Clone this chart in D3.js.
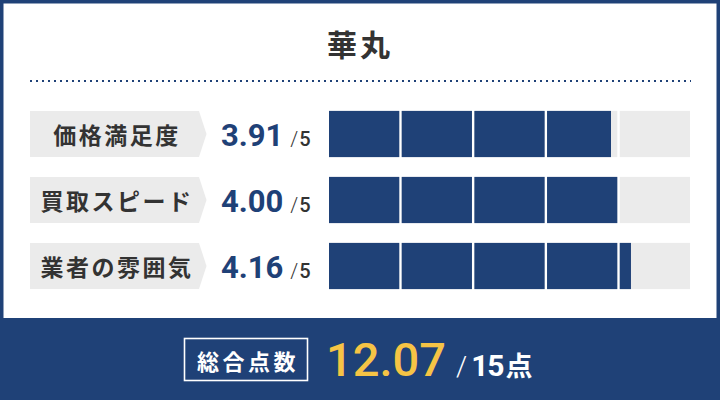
<!DOCTYPE html>
<html><head><meta charset="utf-8">
<script src="https://cdn.jsdelivr.net/npm/d3@7"></script>
<style>
html,body{margin:0;padding:0;background:#fff;}
svg{display:block;}
</style></head>
<body>
<svg id="c" width="720" height="400"></svg>
<script>
const title = "華丸";
const categories = ["価格満足度", "買取スピード", "業者の雰囲気"];
const values = [3.91, 4.00, 4.16];
const maxScore = 5;
const totalLabel = "総合点数";
const totalValue = "12.07";
const totalMax = "/15点";

const navy = "#1f4177", gray = "#ebebeb", yellow = "#f6c445", ink = "#333333";
const jp = "'Noto Sans CJK JP','Noto Sans',sans-serif";
const num = "Roboto,'Noto Sans',sans-serif";

const svg = d3.select("#c");
// frame & bottom band
svg.append("rect").attr("x",0).attr("y",0).attr("width",720).attr("height",400).attr("fill",navy);
svg.append("rect").attr("x",3.5).attr("y",3.5).attr("width",713).attr("height",314.5).attr("fill","#fff");

// title
svg.append("text").attr("x",360).attr("y",43).attr("text-anchor","middle").attr("dominant-baseline","central")
  .attr("font-family",jp).attr("font-weight",700).attr("font-size",30).attr("letter-spacing",3)
  .attr("fill",ink).text(title);

// dotted line
svg.append("line").attr("x1",30).attr("x2",691).attr("y1",81).attr("y2",81)
  .attr("stroke",navy).attr("stroke-width",2).attr("stroke-dasharray","2 4");

const y = d3.scaleBand().domain(categories).range([101, 299]).paddingInner(0.3).paddingOuter(0.15);
const x = d3.scaleLinear().domain([0, maxScore]).range([327.8, 691.2]);
const gap = 2.4;
const bh = y.bandwidth();

const rows = svg.selectAll("g.row").data(categories.map((c,i)=>({c, v: values[i]}))).join("g")
  .attr("class","row").attr("transform", d => `translate(0,${y(d.c)})`);

// label arrow box
rows.append("path").attr("fill",gray)
  .attr("d", `M30,0H199L206.5,${bh/2}L199,${bh}H30Z`);
rows.append("text").attr("x",117).attr("y",bh/2).attr("text-anchor","middle").attr("dominant-baseline","central")
  .attr("font-family",jp).attr("font-weight",700).attr("font-size",23).attr("letter-spacing",2.5)
  .attr("fill",ink).text(d=>d.c);

// score
const st = rows.append("text").attr("x",221).attr("y",bh/2+12).attr("font-family",num);
st.append("tspan").attr("font-weight",700).attr("font-size",31).attr("fill",navy).text(d=>d.v.toFixed(2));
st.append("tspan").attr("dx",7).attr("font-weight",300).attr("font-size",20).attr("fill",ink).text("/");
st.append("tspan").attr("dx",1).attr("font-weight",500).attr("font-size",20).attr("fill",ink).text(maxScore);

// bar segments
const units = d3.range(maxScore);
rows.each(function(d){
  const g = d3.select(this);
  units.forEach(i => {
    const x0 = x(i) + gap/2, x1 = x(i+1) - gap/2, w = x1 - x0;
    g.append("rect").attr("x",x0).attr("y",0).attr("width",w).attr("height",bh).attr("fill",gray);
    const f = Math.max(0, Math.min(1, d.v - i));
    if (f > 0) g.append("rect").attr("x",x0).attr("y",0).attr("width",w*f).attr("height",bh).attr("fill",navy);
  });
});

// bottom total
svg.append("rect").attr("x",184.5).attr("y",338.5).attr("width",123).attr("height",42)
  .attr("fill","none").attr("stroke","#fff").attr("stroke-width",1.6);
svg.append("text").attr("x",248).attr("y",359.5).attr("text-anchor","middle").attr("dominant-baseline","central")
  .attr("font-family",jp).attr("font-weight",700).attr("font-size",22).attr("letter-spacing",3.5)
  .attr("fill","#fff").text(totalLabel);
svg.append("text").attr("x",326).attr("y",376).attr("font-family",num).attr("font-weight",500)
  .attr("font-size",47).attr("fill",yellow).text(totalValue);
const tm = svg.append("text").attr("x",456).attr("y",376).attr("fill","#fff");
tm.append("tspan").attr("font-family",num).attr("font-weight",300).attr("font-size",28).text(totalMax[0]);
tm.append("tspan").attr("dx",4).attr("font-family",num).attr("font-weight",700).attr("font-size",30).attr("letter-spacing",-1).text(totalMax.slice(1,3));
tm.append("tspan").attr("dx",2).attr("font-family",jp).attr("font-weight",700).attr("font-size",27).text(totalMax.slice(3));
</script>
</body></html>
